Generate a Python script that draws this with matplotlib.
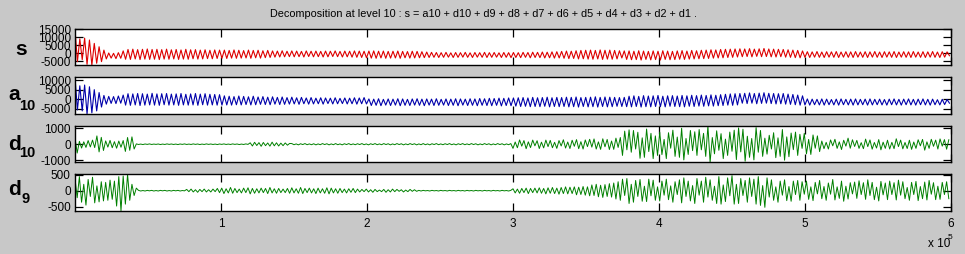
import numpy as np
import matplotlib
matplotlib.use("Agg")
import matplotlib.pyplot as plt

plt.rcParams['font.family'] = ['Liberation Sans', 'DejaVu Sans']

# ---------------- data ----------------
title = "Decomposition at level 10 : s = a10 + d10 + d9 + d8 + d7 + d6 + d5 + d4 + d3 + d2 + d1 ."
x_ticks = [100000, 200000, 300000, 400000, 500000, 600000]
x_tick_labels = ["1", "2", "3", "4", "5", "6"]
x_max = 600000
step_sa = 1650    # sample spacing of the listed s / a10 turning points
step_d = 1500     # sample spacing of the listed detail values

s_vals = [
    15000, -5200, 9000, -4000, 9500, -6900, 8300, -7300, 6200, -6200, 4100, -5200, 2000, -3500,
    200, -3000, 0, -3300, 400, -3100, 1500,
    -3700, 2400, -3800, 2600, -3500, 2300, -3900, 2500, -3600, 2700,
    -3800, 2400, -3700, 2500, -3900, 2300, -3600, 2600, -3700, 2200,
    -3500, 2400, -3800, 2100, -3600, 2500, -3700, 2200, -3400, 2300,
    -3600, 2000, -3500, 2200, -3300, 1900, -3400, 2100, -3200, 2000,
    -3100, 2000, -3200, 1800, -3000, 2100, -3100, 1900, -3000, 1700,
    -2900, 2000, -3100, 1800, -2800, 1900, -3000, 1600, -2700, 1800,
    -2600, 1500, -2400, 1400, -2300, 1600, -2200, 1300, -2100, 1500,
    -2200, 1400, -2100, 1200, -2300, 1500, -2000, 1300, -2200, 1400,
    -2100, 1200, -2300, 1400, -2200, 1300, -2000, 1500, -2100, 1200,
    -2300, 1400, -2200, 1300, -2400, 1500, -2500, 1400, -2600, 1300, -2800,
    1400, -3000, 1500, -3100, 1300, -2900, 1400, -3100, 1200, -3000,
    1300, -2900, 1400, -3100, 1200, -2800, 1100, -3000, 1300, -2900,
    1200, -2800, 1000, -2700, 800, -2600, 600, -2500, 500, -2600,
    400, -2500, 600, -2400, 300, -2600, 500, -2500, 400, -2400,
    600, -2500, 300, -2600, 500, -2400, 400, -2500, 600, -2600,
    400, -2500, 500, -2400, 300, -2600, 500, -2500, 400, -2700,
    500, -2600, 400, -2700, 600, -2500, 500, -2800, 700, -2600,
    600, -2700, 800, -2900, 700, -2800, 900, -3000, 1000, -2900,
    1200, -3100, 1400, -3300, 1300, -3200, 1600, -3500, 1800, -3400,
    1900, -3600, 2000, -3700, 1800, -3500, 2100, -3800, 1900, -3600,
    2000, -3700, 1800, -3500, 1600, -2900, 1500,
    -3800, 1500, -4000, 1300, -3900, 1600, -4200, 1400, -3800, 1200,
    -4100, 1500, -3900, 1300, -4200, 1600, -3800, 1400, -4000, 1200,
    -3900, 1500, -3700, 1700, -3800, 1400, -3600, 1800, -3500, 1600,
    -3400, 1900, -3300, 2000, -3200, 2200, -3000, 2100, -2900, 2400,
    -2800, 2500, -2600, 2600, -2500, 2700, -2300, 2800,
    -2100, 2700, -2000, 2900, -2200, 2600, -1900, 2800, -2100, 3000,
    -2000, 2700, -2200, 2600, -2300, 2500, -2100, 2400, -2400, 2200,
    -2500, 2000, -2700, 1800, -2800, 1500,
    -2500, 1000, -2600, 900, -2400, 1100, -2500, 800, -2600, 1000,
    -2400, 900, -2500, 1100, -2600, 800, -2400, 1000, -2500, 900,
    -2600, 1100, -2400, 800, -2500, 1000, -2600, 900, -2400, 1100,
    -2500, 800, -2600, 1000, -2400, 900, -2500, 1100, -2600, 800,
    -2400, 1000, -2500, 900, -2600, 1100, -2400, 800, -2500, 1000,
    -2600, 900, -2400, 1100, -2500, 800, -2600, 1000, -2400, 900, -1500,
]

a10_vals = [
    11400, -5500, 7000, -6000, 7400, -7600, 6500, -7000, 5000, -6000, 3500, -4000, 2000, -2500,
    1500, -2100, 1400, -2200, 1700, -2000, 2200,
    -3000, 2900, -3100, 2800, -2900, 3000, -3200, 2900, -3000, 2700,
    -2900, 3100, -3000, 2800, -3100, 2900, -2800, 3000, -3000, 2700,
    -2900, 2800, -3100, 3000, -2900, 2600, -3000, 2800, -2900, 3000,
    -3100, 2700, -2800, 2900, -3000, 2600, -2900, 2500, -3000, 2400,
    -3000, 1800, -2900, 1600, -3000, 1400, -2800, 1700, -2900, 1500,
    -2700, 1300, -2900, 1600, -2800, 1200, -2600, 1400, -2700, 1100,
    -2800, 1300, -2500, 1000, -2700, 1200, -2600, 900, -2500, 1100,
    -2400, 800, -2600, 1000, -2300, 700, -2500, 900, -2400, 600,
    -2300, 800, -2500, 700, -2200, 600, -2400, 800, -2300, 500,
    -2200, 700, -2400, 600, -2300, 800, -2500, 700, -2300, 900, -2400,
    200, -3200, 100, -3100, 300, -3300, 0, -3000, 200, -3200,
    100, -3000, 300, -3300, 200, -3100, 0, -3200, 200, -3000,
    300, -3100, 100, -3300, 200, -3000, 100, -3200, 300, -3100,
    0, -3000, 200, -3200, 100, -3100, 300, -3300, 200, -3000,
    100, -3200, 300, -3100, 200, -3300, 400, -3100, 300, -3200,
    500, -3300, 400, -3100, 600, -3400, 500, -3200, 700, -3300,
    700, -3500, 800, -3700, 900, -3600, 700, -3800, 1000, -3700,
    800, -3800, 900, -3600, 1100, -3900, 800, -3700, 1000, -3800,
    900, -3700, 1100, -3900, 1000, -3800, 1200, -4000, 900, -3700,
    1000, -3900, 1100, -3800, 1300, -4000, 1000, -3700, 1200, -3900,
    1100, -3800, 1000, -3600, 900, -3700, 1000,
    -3800, 1600, -3900, 1800, -3700, 1500, -4000, 1900, -3800, 1700,
    -3900, 1800, -3700, 2000, -3800, 1600, -3900, 1800, -3600, 1900,
    -3700, 1700, -3800, 2000, -3900, 1800, -3600, 2100, -3700, 1900,
    -3500, 2200, -3600, 2000, -3400, 2300, -3500, 2100, -3300, 2400,
    -3200, 2600, -3000, 2800, -3100, 2900, -2900, 3000,
    -2000, 3100, -2200, 3300, -2000, 3000, -2300, 3200, -2100, 3400,
    -2000, 3100, -2200, 3000, -2400, 2900, -2300, 3000, -2500, 2700,
    -2600, 2500, -2800, 2200, -3000, 1800,
    -2900, 200, -3000, 100, -2800, 0, -2900, 200, -3000, 100,
    -2800, -100, -2900, 100, -3000, 200, -2800, 0, -2900, 100,
    -3000, 200, -2900, 0, -2800, 100, -3000, 200, -2900, 0,
    -2800, 100, -2900, -100, -3000, 100, -2800, 200, -2900, 0,
    -3000, 100, -2800, 200, -2900, 0, -3000, 100, -2800, 200,
    -2900, 0, -3000, 100, -2800, -200, -2900, 0, -2700, -100, -2000,
]

d10_vals = [
    400, -550,
    180, -240, 150, -200, 230, -170, 260, -210,
    520, -480, 430, -390,
    210, -180, 240, -220, 160, -250, 200, -190, 230,
    -450, 420, -380, 460, -300,
    20, -15, 10, -20, 15, -10, 20, -15, 10, -10,
    15, -20, 10, -15, 20, -10, 15, -15, 10, -20,
    15, -10, 20, -15, 10, -15, 20, -10, 15, -20,
    10, -15, 20, -10, 15, -15, 10, -20, 15, -10,
    20, -15, 10, -15, 20, -10, 15, -20, 10, -15,
    20, -10,
    90, -110, 120, -80, 100, -130, 110, -90, 80, -120,
    130, -100, 90, -110, 70, -90, 80, -60, 50,
    40, -30, 20, -40, 30, -20, 40, -30, 20, -30,
    30, -40, 20, -30, 40, -20, 30, -40, 20, -30,
    40, -30, 20, -40, 30, -20, 40, -30, 20, -30,
    30, -20, 40, -30, 20, -40, 30, -20, 40, -30,
    20, -30, 40, -20, 30, -40, 20, -30, 40, -20,
    30, -40, 20, -30, 40, -20, 30, -40, 20, -30,
    40, -30, 20, -40, 30, -20, 40, -30, 20, -30,
    30, -20, 40, -30, 20, -40, 30, -20, 40, -30,
    20, -30, 40, -20, 30, -40, 20, -30, 40, -20,
    30, -40, 20, -30, 40, -20, 30, -40, 20, -30,
    40,
    -260, 140, -220, 270, -120, 230, -280, 150, -210, 260,
    -100, 220, -270, 130, -230, 260, -150, 240, -220, 120,
    -260, 230, -110, 280, -240, 140, -270, 250, -130, 290,
    -280, 160, -300, 270, -150,
    310, -180, 330, -300, 150, -320, 340, -160, 300, -330,
    200, -320, 380, -200, 420,
    -700, 820, -350, 900, -500, 860, -300, 750, -880, 400,
    -820, 950, -460, 680, -900, 520, -700, 760,
    -650, 300, -900, 720, -250, 880, -760, 450, -820, 1000,
    -980, 360, -640, 860, -400, 780, -700, 920, -350, 680,
    -760, 1140, -1130, 420, -600, 840, -380, 660, -900, 320,
    -700, 760, -440, 880, -960, 1020, -480, 940, -1060, 500,
    -820, 360, -980, 1040, -500, 860, -760, 380, -620, 560,
    -300, 720, -840, 400, -760, 920, -1000, 460, -780, 700,
    -340, 760, -700,
    620, -260, 680, -600, 300, -640, 580, -250, 520, -460, 200,
    -280, 120, -300, 270, -100, 310, -260, 150, -330, 250,
    -120, 380, -250, 280, -140, 240, -260, 100, -280, 320,
    -150, 270, -310, 110, -240, 290, -350, 130, -260, 250,
    -300, 120, -280, 340, -150, 260, -290, 110, -270, 250,
    -320, 140, -260, 280, -100, 300, -370, 150, -260, 310,
    -130, 260, -300, 330, -120, 290, -310, 280,
]

d9_vals = [
    380, -220, 440, -360, 200, -450, 350, -180, 420, -380, 150, -350,
    280, -320, 260, -300, 330, -270, 300,
    -480, 440, -625, 460, -420, 512,
    -300, 200, -150, 80,
    10, -10, 5, -10, 10, -5, 10, -10, 5, -10,
    10, -5, 10, -10, 5, -10, 10, -5, 10, -10, 5, -5,
    40, -30, 50, -40, 30, -50, 40, -30, 50, -40, 30, -40, 50, -30,
    70, -60, 80, -90, 60, -70, 100, -80, 70, -60,
    50, -70, 80, -60, 90, -100, 70, -80, 60, -70,
    80, -60, 70, -90, 100, -70, 60, -80, 70, -60,
    50, -60, 70, -80, 90, -70, 60, -80, 100, -90,
    70, -60, 80, -70, 60, -90, 80, -70, 60, -80,
    90, -100, 80, -70, 60, -80, 70, -60, 50, -70,
    60, -50, 70, -60, 50, -40,
    40, -30, 50, -40, 30, -50, 40, -30, 20, -30,
    40, -50, 30, -40, 50, -30, 40, -20, 30, -40,
    20, -30, 40, -20, 30, -20, 10, -10,
    10, -5, 5, -10, 10, -5, 5, -10, 10, -5,
    5, -10, 10, -5, 5, -10, 10, -5, 5, -10,
    10, -5, 5, -10, 10, -5, 5, -10, 10, -5,
    5, -10, 10, -5, 5, -10, 10, -5, 5, -10,
    10,
    60, -70, 50, -80, 70, -60, 80, -90, 70, -60,
    80, -70, 90, -80, 70, -100, 90, -80, 100, -90,
    80, -110, 100, -90, 120, -100, 110, -90, 120, -130,
    110, -120, 130, -140, 120,
    -160, 180, -150, 200, -190, 170, -210, 190, -180, 220,
    -200, 240, -260, 280, -300,
    360, -150, 380, -400, 200, -360, 320, -180, 350, -330,
    140, -340, 360, -160, 330, -300, 120, -320,
    300, -140, 360, -280, 150, -360, 280, -120, 340, -380,
    400, -180, 300, -320, 160, -400, 380, -140, 300, -360,
    420, -200, 340, -300, 140, -400, 440, -420, 180, -340,
    400, -160, 470, -420, 200, -400, 380, -150, 320, -360,
    400, -180, 360, -420, 440, -460, 160, -520, 400, -200,
    340, -300, 120, -360, 300, -140, 340, -310, 130, -330,
    300, -120, 320, -300,
    280, -110, 300, -270, 120, -310, 260, -100, 320, -250,
    130, -300, 240, -110, 350, -290, 120, -240, 300, -330,
    140, -260, 250, -100, 270, -240, 310, -120, 250, -270,
    340, -150, 260, -280, 110, -320, 290, -130, 240, -280,
    300, -120, 250, -290, 330, -140, 280, -250, 100, -300,
    260, -120, 290, -310, 130, -250, 270, -290, 320, -110,
    250, -280, 140, -270, 260, -120, 280, -250,
]

s_yticks = [-5000, 0, 5000, 10000, 15000]
a10_yticks = [-5000, 0, 5000, 10000]
d10_yticks = [-1000, 0, 1000]
d9_yticks = [-500, 0, 500]

# ---------------- figure ----------------
W, H = 965, 254
fig = plt.figure(figsize=(W / 100, H / 100), dpi=100, facecolor='#c8c8c8')

def frac_box(x0, y0, x1, y1):
    return [x0 / W, 1 - y1 / H, (x1 - x0) / W, (y1 - y0) / H]

boxes = [
    frac_box(75, 29.3, 951, 65.0),
    frac_box(75, 77.3, 951, 114.0),
    frac_box(75, 126.0, 951, 162.3),
    frac_box(75, 174.3, 951, 210.7),
]

panels = [
    (s_vals, step_sa, '#dd0000', s_yticks, 0.8),
    (a10_vals, step_sa, '#0000aa', a10_yticks, 0.8),
    (d10_vals, step_d, '#008000', d10_yticks, 0.7),
    (d9_vals, step_d, '#008000', d9_yticks, 0.7),
]

tick_fs = 8.5
for i, (box, (vals, step, col, yt, lw)) in enumerate(zip(boxes, panels)):
    ax = fig.add_axes(box)
    ax.set_facecolor('white')
    v = np.asarray(vals, dtype=float)
    xs = 1 + np.arange(len(v)) * step
    ax.plot(xs, v, color=col, lw=lw)
    ax.set_xlim(1, x_max)
    ax.set_ylim(v.min(), v.max())
    ax.set_yticks(yt)
    ax.set_yticklabels([str(t) for t in yt])
    ax.set_xticks(x_ticks)
    if i == 3:
        ax.set_xticklabels(x_tick_labels)
    else:
        ax.set_xticklabels([])
    ax.tick_params(direction='in', length=6, width=0.9, top=True, right=True,
                   labelsize=tick_fs, colors='black')
    ax.tick_params(axis='y', pad=3)
    ax.tick_params(axis='x', pad=5)
    for sp in ax.spines.values():
        sp.set_linewidth(1.0)
        sp.set_color('black')

# title
fig.text(483.5 / W, 1 - 14 / H, title, ha='center', va='center', fontsize=7.8)

# y labels (bold letters with subscripts)
def ftxt(px, py_base, txt, size):
    fig.text(px / W, 1 - py_base / H, txt, ha='left', va='baseline',
             fontsize=size, fontweight='bold')

ftxt(15, 55, 's', 15)
ftxt(8, 100, 'a', 15)
ftxt(19, 110, '10', 10.5)
ftxt(8, 150, 'd', 15)
ftxt(19, 157, '10', 10.5)
ftxt(8, 195, 'd', 15)
ftxt(21, 203, '9', 10.5)

# x-axis multiplier
fig.text(928 / W, 1 - 247 / H, 'x 10', ha='left', va='baseline', fontsize=8.5)
fig.text(948 / W, 1 - 239 / H, '5', ha='left', va='baseline', fontsize=6)

fig.savefig('out.png', dpi=100, facecolor=fig.get_facecolor())
